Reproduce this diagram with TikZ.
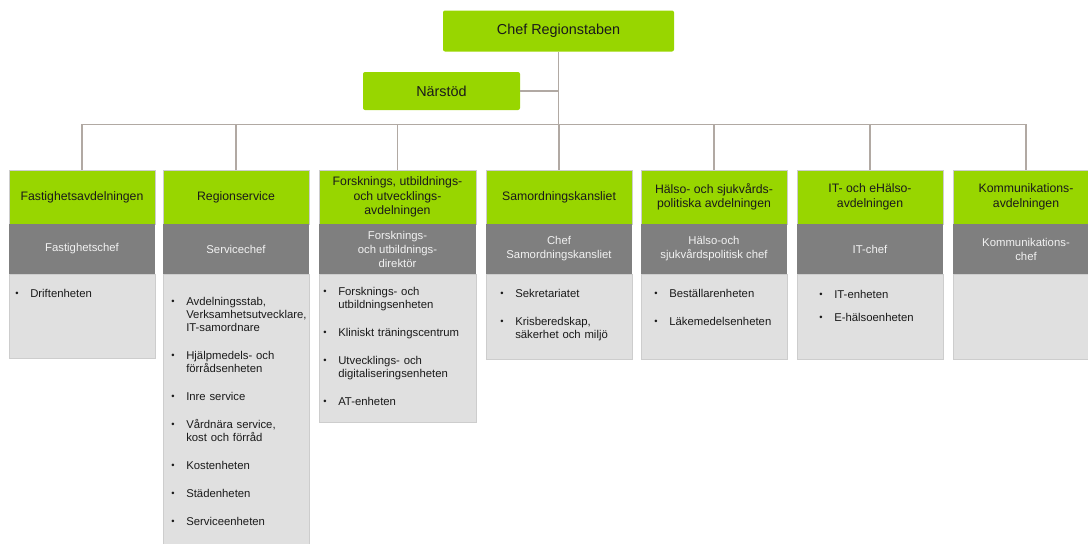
\documentclass[tikz,border=0pt]{standalone}
\usepackage{fontspec}
\setmainfont{Liberation Sans}
\usetikzlibrary{positioning}

\definecolor{rsgreen}{HTML}{98D600}
\definecolor{rsgrey}{HTML}{7F7F7F}
\definecolor{rslight}{HTML}{E0E0E0}
\definecolor{rsline}{HTML}{B1A9A3}
\definecolor{rsedge}{HTML}{CDCDCD}
\definecolor{rstext}{HTML}{1A1A1A}

\newlength{\rsgap}
\setlength{\rsgap}{11.25pt}
\newcommand{\rsitem}[1]{\noindent\hangindent=11.25pt\hangafter=1\makebox[11.25pt][l]{\raisebox{0.4pt}{\fontsize{7}{7}\selectfont\textbullet}}#1\par\vspace{\rsgap}}

\begin{document}
\begin{tikzpicture}[x=0.75pt,y=-0.75pt]
      \useasboundingbox (0,0) rectangle (1088,543);

      \tikzstyle{orgline}=[line width=1.1pt, rsline, line join=miter];
      \tikzstyle{topbox}=[fill=rsgreen, rounded corners=1.5pt, inner sep=0pt, outer sep=0pt, text=rstext, font=\fontsize{10.8}{13}\selectfont];
      \tikzstyle{headbox}=[anchor=north, fill=rsgreen, draw=rsedge, line width=0.4pt, minimum height=40.5pt, inner sep=0pt, outer sep=0pt, align=center, text=rstext, font=\fontsize{9.2}{10.9}\selectfont];
      \tikzstyle{chiefbox}=[fill=rsgrey, minimum height=37.5pt, inner sep=0pt, outer sep=0pt, align=center, text=white!95!black, font=\fontsize{8.5}{10.5}\selectfont];
      \tikzstyle{bodybox}=[fill=rslight, draw=rsedge, line width=0.4pt, inner sep=0pt, outer sep=0pt];
      \tikzstyle{itemlist}=[anchor=north west, inner sep=0pt, text width=110pt, align=left, text=rstext, font=\fontsize{8.5}{9.75}\selectfont];

      % top of the chart
      \node[topbox, minimum width=173.25pt, minimum height=30.75pt] (chef) at (558.5,31) {Chef Regionstaben};
      \node[topbox, minimum width=117.75pt, minimum height=28.5pt] (narstod) at (441.5,91) {Närstöd};

      % departments
      \node[headbox, minimum width=109.5pt] (fast) at (82,170) {Fastighetsavdelningen};
      \node[chiefbox, minimum width=109.5pt, below=0pt of fast] (fast-chief) {Fastighetschef};
      \node[bodybox, minimum width=109.5pt, minimum height=63pt, below=0pt of fast-chief] (fast-body) {};

      \node[headbox, minimum width=109.5pt] (region) at (236,170) {Regionservice};
      \node[chiefbox, minimum width=109.5pt, below=0pt of region] (region-chief) {Servicechef};
      \node[bodybox, minimum width=109.5pt, minimum height=204pt, below=0pt of region-chief] (region-body) {};

      \node[headbox, minimum width=117.75pt] (fou) at (397.5,170) {Forsknings, utbildnings-\\och utvecklings-\\avdelningen};
      \node[chiefbox, minimum width=117.75pt, below=0pt of fou] (fou-chief) {Forsknings-\\och utbildnings-\\direktör};
      \node[bodybox, minimum width=117.75pt, minimum height=111pt, below=0pt of fou-chief] (fou-body) {};

      \node[headbox, minimum width=109.5pt] (samord) at (559,170) {Samordningskansliet};
      \node[chiefbox, minimum width=109.5pt, below=0pt of samord] (samord-chief) {Chef\\Samordningskansliet};
      \node[bodybox, minimum width=109.5pt, minimum height=63.75pt, below=0pt of samord-chief] (samord-body) {};

      \node[headbox, minimum width=109.5pt] (halso) at (714,170) {Hälso- och sjukvårds-\\politiska avdelningen};
      \node[chiefbox, minimum width=109.5pt, below=0pt of halso] (halso-chief) {Hälso-och\\sjukvårdspolitisk chef};
      \node[bodybox, minimum width=109.5pt, minimum height=63.75pt, below=0pt of halso-chief] (halso-body) {};

      \node[headbox, minimum width=109.5pt] (it) at (870,170) {IT- och eHälso-\\avdelningen};
      \node[chiefbox, minimum width=109.5pt, below=0pt of it] (it-chief) {IT-chef};
      \node[bodybox, minimum width=109.5pt, minimum height=63.75pt, below=0pt of it-chief] (it-body) {};

      \node[headbox, minimum width=109.5pt] (komm) at (1026,170) {Kommunikations-\\avdelningen};
      \node[chiefbox, minimum width=109.5pt, below=0pt of komm] (komm-chief) {Kommunikations-\\chef};
      \node[bodybox, minimum width=109.5pt, minimum height=63.75pt, below=0pt of komm-chief] (komm-body) {};

      % units
      \node[itemlist] (fast-list) at (15,289) {\rsitem{Driftenheten}};
      \node[itemlist] (region-list) at (171,297) {\rsitem{Avdelningsstab,\newline Verksamhetsutvecklare,\newline IT-samordnare}\rsitem{Hjälpmedels- och\newline förrådsenheten}\rsitem{Inre service}\rsitem{Vårdnära service,\newline kost och förråd}\rsitem{Kostenheten}\rsitem{Städenheten}\rsitem{Serviceenheten}};
      \node[itemlist] (fou-list) at (323,287) {\rsitem{Forsknings- och\newline utbildningsenheten}\rsitem{Kliniskt träningscentrum}\rsitem{Utvecklings- och\newline digitaliseringsenheten}\rsitem{AT-enheten}};
      \node[itemlist] (samord-list) at (500,289) {\rsitem{Sekretariatet}\rsitem{Krisberedskap,\newline säkerhet och miljö}};
      \node[itemlist] (halso-list) at (654,289) {\rsitem{Beställarenheten}\rsitem{Läkemedelsenheten}};
      \node[itemlist] (it-list) at (819,290) {\setlength{\rsgap}{7.5pt}\rsitem{IT-enheten}\rsitem{E-hälsoenheten}};

      % connectors
      \coordinate (busL) at (83,124.5);
      \draw[orgline] (chef.south) -- (chef.south |- busL);
      \draw[orgline] (narstod.east) -- (narstod.east -| chef.south);
      \draw[orgline] (fast.north) |- (komm.north |- busL) -- (komm.north);
      \draw[orgline] (region.north) -- (region.north |- busL);
      \draw[orgline] (fou.north) -- (fou.north |- busL);
      \draw[orgline] (samord.north) -- (samord.north |- busL);
      \draw[orgline] (halso.north) -- (halso.north |- busL);
      \draw[orgline] (it.north) -- (it.north |- busL);
\end{tikzpicture}
\end{document}
